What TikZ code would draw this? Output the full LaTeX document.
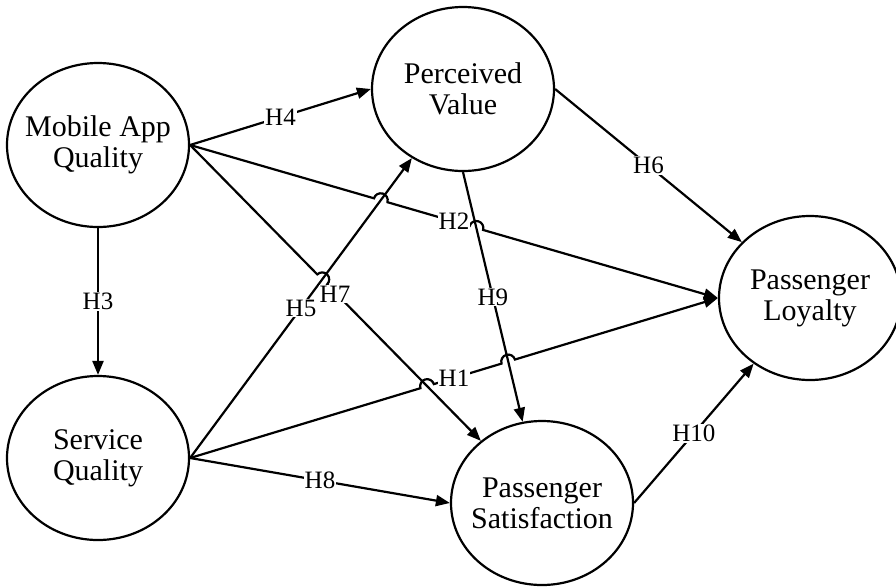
\documentclass[tikz,border=0pt]{standalone}
\usepackage{fontspec}
\setmainfont{Liberation Serif}
\usetikzlibrary{shapes.geometric,arrows.meta,calc,intersections}
\begin{document}
\begin{tikzpicture}[x=1pt,y=1pt,
  construct/.style={ellipse, draw, line width=2.2pt, minimum width=182pt, minimum height=164pt, inner xsep=-12pt, inner ysep=0pt, align=center, font=\fontsize{30}{31}\selectfont},
  conn/.style={line width=2.2pt, -{Triangle[length=14pt,width=11pt]}},
  lbl/.style={fill=white, inner sep=1pt, font=\fontsize{25}{25}\selectfont}]
\useasboundingbox (0,0) rectangle (896,-587);
\node[construct] (MAQ) at (98,-145) {Mobile App\\Quality};
\node[construct] (PV)  at (463,-89)  {Perceived\\Value};
\node[construct] (PL)  at (810,-298) {Passenger\\Loyalty};
\node[construct] (SQ)  at (98,-458)  {Service\\Quality};
\node[construct] (PS)  at (542,-503) {Passenger\\Satisfaction};
% invisible paths for crossings
\path[name path=p2] (MAQ.east) -- (PL.west);
\path[name path=p5] (SQ.east) -- (PV);
\path[name path=p7] (MAQ.east) -- (PS);
\path[name path=p9] (PV.south) -- (PS);
\path[name path=p1] (SQ.east) -- (PL.west);
\path[name intersections={of=p2 and p5, by=x25}];
\path[name intersections={of=p2 and p9, by=x29}];
\path[name intersections={of=p7 and p5, by=x75}];
\path[name intersections={of=p1 and p7, by=x17}];
\path[name intersections={of=p1 and p9, by=x19}];
% plain connectors
\draw[conn] (MAQ.east) -- (PV.west) coordinate[pos=0.5] (m4);
\draw[conn] (MAQ.south) -- (SQ.north) coordinate[pos=0.5] (m3);
\draw[conn] (SQ.east) -- (PV) coordinate[pos=0.5] (m5);
\draw[conn] (SQ.east) -- (PS.west) coordinate[pos=0.5] (m8);
\draw[conn] (PV.east) -- (PL) coordinate[pos=0.5] (m6);
\draw[conn] (PV.south) -- (PS) coordinate[pos=0.5] (m9);
\draw[conn] (PS.east) -- (PL) coordinate[pos=0.5] (m10);
% connectors with line hops
\draw[conn] let \p1=($(PL.west)-(MAQ.east)$), \n1={atan2(\y1,\x1)} in
  (MAQ.east) -- ($(x25)!7pt!(MAQ.east)$) arc[start angle=\n1+180, delta angle=-180, radius=7pt]
  -- ($(x29)!7pt!(MAQ.east)$) arc[start angle=\n1+180, delta angle=-180, radius=7pt]
  -- (PL.west);
\draw[conn] let \p1=($(x75)-(MAQ.east)$), \n1={atan2(\y1,\x1)} in
  (MAQ.east) -- ($(x75)!7pt!(MAQ.east)$) arc[start angle=\n1+180, delta angle=-180, radius=7pt]
  -- (PS);
\draw[conn] let \p1=($(PL.west)-(SQ.east)$), \n1={atan2(\y1,\x1)} in
  (SQ.east) -- ($(x17)!7pt!(SQ.east)$) arc[start angle=\n1+180, delta angle=-180, radius=7pt]
  -- ($(x19)!7pt!(SQ.east)$) arc[start angle=\n1+180, delta angle=-180, radius=7pt]
  -- (PL.west);
\coordinate (m2) at ($(MAQ.east)!0.5!(PL.west)$);
\coordinate (m1) at ($(SQ.east)!0.5!(PL.west)$);
% labels
\node[lbl] (l4) at (m4) {H4};
\node[lbl] (l3) at (m3) {H3};
\node[lbl] (l5) at (m5) {H5};
\node[lbl] (l8) at (m8) {H8};
\node[lbl] (l6) at (m6) {H6};
\node[lbl] (l9) at (m9) {H9};
\node[lbl] (l10) at (m10) {H10};
\node[lbl] (l2) at (m2) {H2};
\node[lbl] (l1) at (m1) {H1};
\node[lbl] (l7) at (335,-294) {H7};
\end{tikzpicture}
\end{document}
